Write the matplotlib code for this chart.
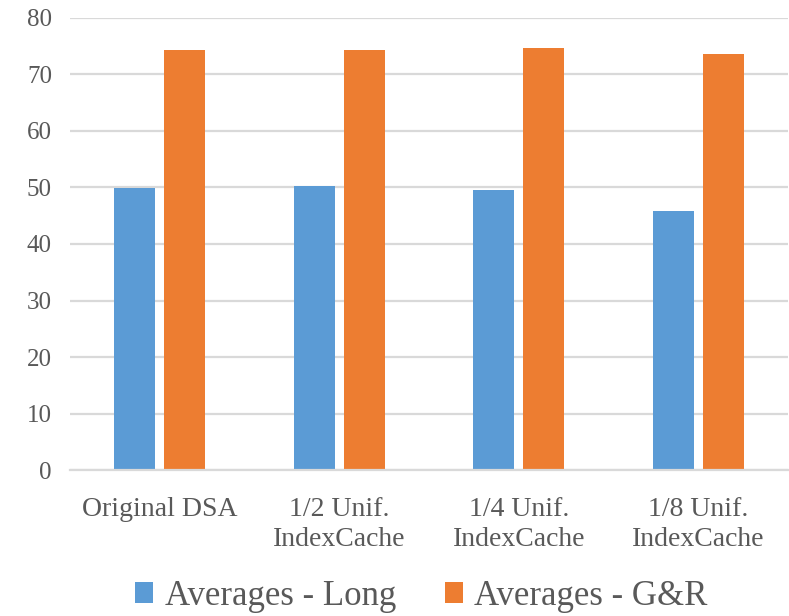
import matplotlib.pyplot as plt
import numpy as np

# averages per configuration
categories = ['Original DSA', '1/2 Unif.\nIndexCache', '1/4 Unif.\nIndexCache', '1/8 Unif.\nIndexCache']
avg_long = [49.9, 50.3, 49.6, 45.8]
avg_gr = [74.3, 74.3, 74.7, 73.6]

blue = '#5B9BD5'
orange = '#ED7D31'
txt = '#595959'
grid = '#D9D9D9'

plt.rcParams['font.family'] = 'serif'
plt.rcParams['font.serif'] = ['Liberation Serif', 'Times New Roman', 'DejaVu Serif']

fig = plt.figure(figsize=(7.89, 6.16), dpi=100)
ax = fig.add_axes([0.0887, 0.2365, 0.91, 0.7348])

x = np.arange(len(categories))
w = 0.228
off = 0.139
ax.bar(x - off, avg_long, w, color=blue, label='Averages - Long', zorder=2)
ax.bar(x + off, avg_gr, w, color=orange, label='Averages - G&R', zorder=2)

ax.set_xlim(-0.5, 3.5)
ax.set_ylim(0, 80)
ax.set_yticks(range(0, 81, 10))
ax.set_xticks(x)
ax.set_xticklabels(categories, linespacing=1.3)
ax.yaxis.grid(True, color=grid, linewidth=1.6, zorder=0)
ax.set_axisbelow(True)

for s in ['top', 'right', 'left']:
    ax.spines[s].set_visible(False)
ax.spines['bottom'].set_color(grid)
ax.spines['bottom'].set_linewidth(1.6)
ax.spines['bottom'].set_zorder(3)

ax.tick_params(axis='y', length=0, pad=13, labelsize=18, labelcolor=txt)
ax.tick_params(axis='x', length=0, pad=19, labelsize=20, labelcolor=txt)

fig.legend(loc='center', bbox_to_anchor=(0.534, 0.032), ncol=2, frameon=False,
           fontsize=25, labelcolor=txt, handlelength=0.52, handleheight=0.55,
           handletextpad=0.34, columnspacing=1.4, borderpad=0, borderaxespad=0)

fig.savefig('out.png', dpi=100)
